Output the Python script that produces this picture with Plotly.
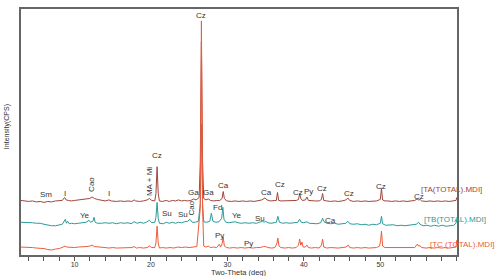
import plotly.graph_objects as go

# ---------------- data (two-theta in deg, intensity relative to each pattern's background) ----------------
ta_x = [3.0,3.5,4.0,4.5,5.0,5.5,6.0,6.5,7.0,7.5,8.0,8.4,8.7,8.9,9.2,9.6,10.0,10.5,11.0,11.5,12.0,12.3,12.6,13.0,13.5,14.0,14.5,14.8,15.5,16.0,16.5,17.0,17.5,17.8,18.0,18.5,19.0,19.5,19.8,20.1,20.5,20.65,20.8,20.95,21.1,21.5,22.0,22.4,22.8,23.2,23.6,24.0,24.4,24.8,25.2,25.6,25.9,26.3,26.45,26.6,26.75,26.9,27.2,27.5,27.8,28.2,28.6,29.0,29.3,29.45,29.6,29.9,30.5,31.0,31.5,32.0,32.5,33.0,33.5,34.0,34.5,34.9,35.2,35.6,36.0,36.4,36.55,36.7,37.0,37.5,38.0,38.5,39.0,39.3,39.45,39.6,39.8,40.2,40.4,40.6,41.0,41.5,42.0,42.3,42.45,42.6,43.0,43.5,44.0,44.5,45.0,45.5,45.75,46.0,46.5,47.0,47.5,48.0,48.5,49.0,49.5,50.0,50.15,50.3,50.6,51.0,51.5,52.0,52.5,53.0,53.5,54.0,54.5,54.8,55.0,55.2,55.4,56.0,56.5,57.0,57.5,58.0,58.5,59.0,59.5,59.9,60.0]
ta_y = [1,0.5,0,0.5,-0.5,0,-1,0,-0.5,0.5,0.5,1,4,1.5,1,0.5,1,1.5,2,2.5,3,4.5,3,2,1,0.5,1.5,0.5,0,0.5,0,0.5,0,1.5,0.5,0,0.5,1.5,3,1,0.5,8,35,8,0.5,0,1,0,1,0.5,1.5,0.5,1,0.5,1,2.5,1.5,4,40,161,40,3,1.5,2.5,1,0.5,1,1,3,10,3,0.5,0,0.5,0,0.5,0,0.5,0,1,1.5,3.5,1.5,0.5,0.5,1,9,1,0.5,0.5,1,0.5,1,2,8,3,1,1.5,4.5,1,0.5,0.5,0.5,2,8,1,0.5,0,0.5,0,0.5,1.5,3.5,1,0,0.5,0,0.5,0,0.5,0.5,2,13,1.5,0.5,0.5,0,0.5,0,0.5,0,0.5,1,2.5,1.5,2,0.5,0,0.5,0,0.5,0,0.5,0,0.5,1,4]

tb_x = [3.0,3.5,4.0,4.5,5.0,5.5,6.0,6.5,7.0,7.5,8.0,8.4,8.8,8.95,9.1,9.3,9.6,10.0,10.5,11.0,11.5,11.9,12.1,12.4,12.55,12.7,13.0,13.5,14.0,14.5,15.0,15.5,16.0,16.5,17.0,17.4,17.8,18.2,18.6,19.0,19.4,19.8,20.1,20.5,20.65,20.8,20.95,21.1,21.6,22.0,22.4,22.8,23.2,23.6,24.0,24.4,24.8,25.1,25.4,25.8,26.2,26.45,26.6,26.75,26.9,27.3,27.7,27.9,28.1,28.5,28.9,29.25,29.4,29.55,29.8,30.2,30.6,31.0,31.4,31.8,32.3,32.8,33.3,33.8,34.2,34.6,34.8,35.0,35.3,35.7,36.1,36.4,36.6,36.8,37.2,37.7,38.2,38.7,39.2,39.45,39.65,40.0,40.4,40.7,41.2,41.7,42.2,42.45,42.65,43.0,43.5,44.0,44.5,45.0,45.5,45.75,46.0,46.5,47.0,47.5,48.0,48.5,49.0,49.5,50.0,50.15,50.3,50.7,51.2,51.7,52.2,52.7,53.2,53.7,54.2,54.7,55.0,55.2,55.6,56.1,56.6,57.1,57.6,58.1,58.6,59.1,59.6,59.9,60.0]
tb_y = [1,1,0.5,0.5,0,0,-1,-2,-2.5,-2.5,-2,-1,4,0,2,-0.5,0,-0.5,0,0.5,1,3,1,2,6,1,0,0,0.5,0,0.5,-0.5,0.5,0,0.5,-0.5,1.5,0,1,0,1,3,0.5,1,6,21,5,0,-0.5,1,0,1,0,1,0.5,1.5,2,4,1,1,2,20,100,20,1.5,1,2,10,2,1,1.5,5,16,4,1,0.5,1,1.5,0.5,0,0.5,0,0.5,0,1,2,1,2,0.5,0,0.5,1,7,1,0,0.5,0,0.5,1,4,1,0.5,1.5,0,0,-0.5,0.5,5,1.5,0,-0.5,0,-1,-0.5,0,2,-0.5,-1,-0.5,-1.5,-1,-2,-1,-1.5,0,7,-0.5,-2,-2,-1.5,-2.5,-2,-2.5,-2,-2,-1,1,-1,-2.5,-2,-3,-2,-3,-2,-3,-2.5,-2,0,4]

tc_x = [3.0,3.5,4.0,4.5,5.0,5.5,6.0,6.5,7.0,7.5,8.0,8.5,8.75,9.0,9.5,10.0,10.5,11.0,11.5,12.0,12.3,12.6,13.0,13.5,14.0,14.5,15.0,15.5,16.0,16.5,17.0,17.5,17.8,18.1,18.5,19.0,19.5,19.8,20.1,20.5,20.65,20.8,20.95,21.1,21.5,22.0,22.5,23.0,23.5,24.0,24.5,25.0,25.5,26.0,26.45,26.6,26.75,26.9,27.2,27.5,27.8,28.2,28.6,28.95,29.1,29.3,29.45,29.6,29.9,30.3,30.8,31.3,31.8,32.3,32.8,33.3,33.8,34.3,34.7,35.0,35.3,35.8,36.2,36.45,36.6,36.75,37.0,37.5,38.0,38.5,39.0,39.3,39.45,39.6,39.75,39.9,40.2,40.4,40.6,41.0,41.5,42.0,42.3,42.45,42.6,43.0,43.5,44.0,44.5,45.0,45.5,45.8,46.0,46.5,47.0,47.5,48.0,48.5,49.0,49.5,49.9,50.05,50.15,50.3,50.6,51.0,51.5,52.0,52.5,53.0,53.5,54.0,54.5,54.85,55.0,55.2,55.4,56.0,56.5,57.0,57.5,58.0,58.5,59.0,59.5,59.9,60.0]
tc_y = [1,1,0.5,0.5,0,0,-0.5,-1.5,-2,-1,-0.5,1,2,1,0.5,0.5,1,1,1.5,2,3,1.5,1,0.5,0.5,0,0.5,0,0,0.5,0,0.5,1.5,0,0.5,0,0.5,2,0.5,0.5,5,22,5,0,0.5,0,0.5,0,1,0.5,1,0.5,1,1.5,40,229,40,2,1,2,0.5,1,0.5,4,1,4,11,2,0.5,0,0.5,0,0.5,0,0.5,0,0.5,0.5,1.5,1.5,0.5,0,0.5,4,10,2,0.5,0,0.5,0,0.5,3,9,3,6,1,1,3,0.5,0,0.5,0,3,9,1,0,0.5,0,0,0.5,1,3,0.5,0,0.5,0,0.5,0,0.5,0.5,2,8,17,2,0.5,0.5,0,0.5,0,0.5,0,0.5,0.5,4,2,2.5,0.5,0,0.5,0,0.5,0,0.5,0,0.5,1,8]

series_names = ["[TA(TOTAL).MDI]", "[TB(TOTAL).MDI]", "[TC (TOTAL).MDI]"]

# phase labels: text, two-theta, intensity level, rotation
lab_text = ["Sm","I","Cao","I","MA + Mi","Cz","Cz","Ga","Ga","Ca","Ca","Cz","Cz","Py","Cz","Cz","Cz","Cz",
            "Ye","Su","Su","Cao","Fd","Ye","Su","Ca",
            "Py","Py"]
lab_x = [6.3,8.7,12.2,14.5,19.8,20.8,26.6,25.5,27.5,29.5,35.1,36.9,39.2,40.6,42.4,45.9,50.1,55.0,
         11.4,22.1,24.2,25.25,28.65,31.2,34.3,43.5,
         28.9,32.8]
lab_y = [61,62,71,62,74,100,241,63,63,70,63,71,63,64,67,62,69,59,
         40,42,41,47,48,40,37,35,
         20,12]
lab_rot = [0,0,-90,0,-90,0,0,0,0,0,0,0,0,0,0,0,0,0,
           0,0,0,-90,0,0,0,0,
           0,0]

x_ticks = [10, 20, 30, 40, 50]

# ---------------- styling ----------------
colors = ["#a0463a", "#2a9c9a", "#f05a3a"]
offsets = [54, 32, 7]
FONT = "Liberation Sans, Arial, sans-serif"

fig = go.Figure()
for xs, ys, col, off in zip([ta_x, tb_x, tc_x], [ta_y, tb_y, tc_y], colors, offsets):
    fig.add_trace(go.Scatter(x=xs, y=[v + off for v in ys], mode="lines",
                             line=dict(color=col, width=1), hoverinfo="skip"))

annotations = []
for t, x, y, r in zip(lab_text, lab_x, lab_y, lab_rot):
    annotations.append(dict(x=x, y=y, xref="x", yref="y", text=t, showarrow=False,
                            textangle=r, font=dict(family=FONT, size=8, color="#333333"),
                            xanchor="center", yanchor="middle"))

legend_pos = [(55.03, 66), (55.42, 36), (56.21, 11)]
for name, col, (lx, ly) in zip(series_names, colors, legend_pos):
    annotations.append(dict(x=lx, y=ly, xref="x", yref="y", text=name, showarrow=False,
                            font=dict(family=FONT, size=8, color=col),
                            xanchor="left", yanchor="middle"))

annotations.append(dict(x=-0.032, y=0.52, xref="paper", yref="paper", text="Intensity(CPS)",
                        textangle=-90, showarrow=False, font=dict(family=FONT, size=7, color="#333333"),
                        xanchor="center", yanchor="middle"))
annotations.append(dict(x=0.5, y=-0.072, xref="paper", yref="paper", text="Two-Theta (deg)",
                        showarrow=False, font=dict(family=FONT, size=7.5, color="#333333"),
                        xanchor="center", yanchor="middle"))

fig.update_layout(
    width=504, height=276,
    margin=dict(l=21, r=47, t=7, b=21),
    paper_bgcolor="white", plot_bgcolor="white",
    showlegend=False,
    annotations=annotations,
    xaxis=dict(range=[3, 60.03], tickvals=x_ticks, ticktext=[str(v) for v in x_ticks],
               ticks="outside", ticklen=4, tickcolor="#555555", tickwidth=1,
               ticklabelstandoff=-2,
               minor=dict(dtick=2, tick0=0, ticks="outside", ticklen=4, tickcolor="#555555"),
               tickfont=dict(family=FONT, size=7, color="#333333"),
               showgrid=False, zeroline=False, showline=True, mirror=True,
               linecolor="#666666", linewidth=1.5),
    yaxis=dict(range=[0, 248], showticklabels=False, ticks="", showgrid=False, zeroline=False,
               showline=True, mirror=True, linecolor="#666666", linewidth=1.5),
)

fig.write_html("out.html", config={"displayModeBar": False},
               post_script="document.body.style.margin='0';document.body.style.overflow='hidden';")
